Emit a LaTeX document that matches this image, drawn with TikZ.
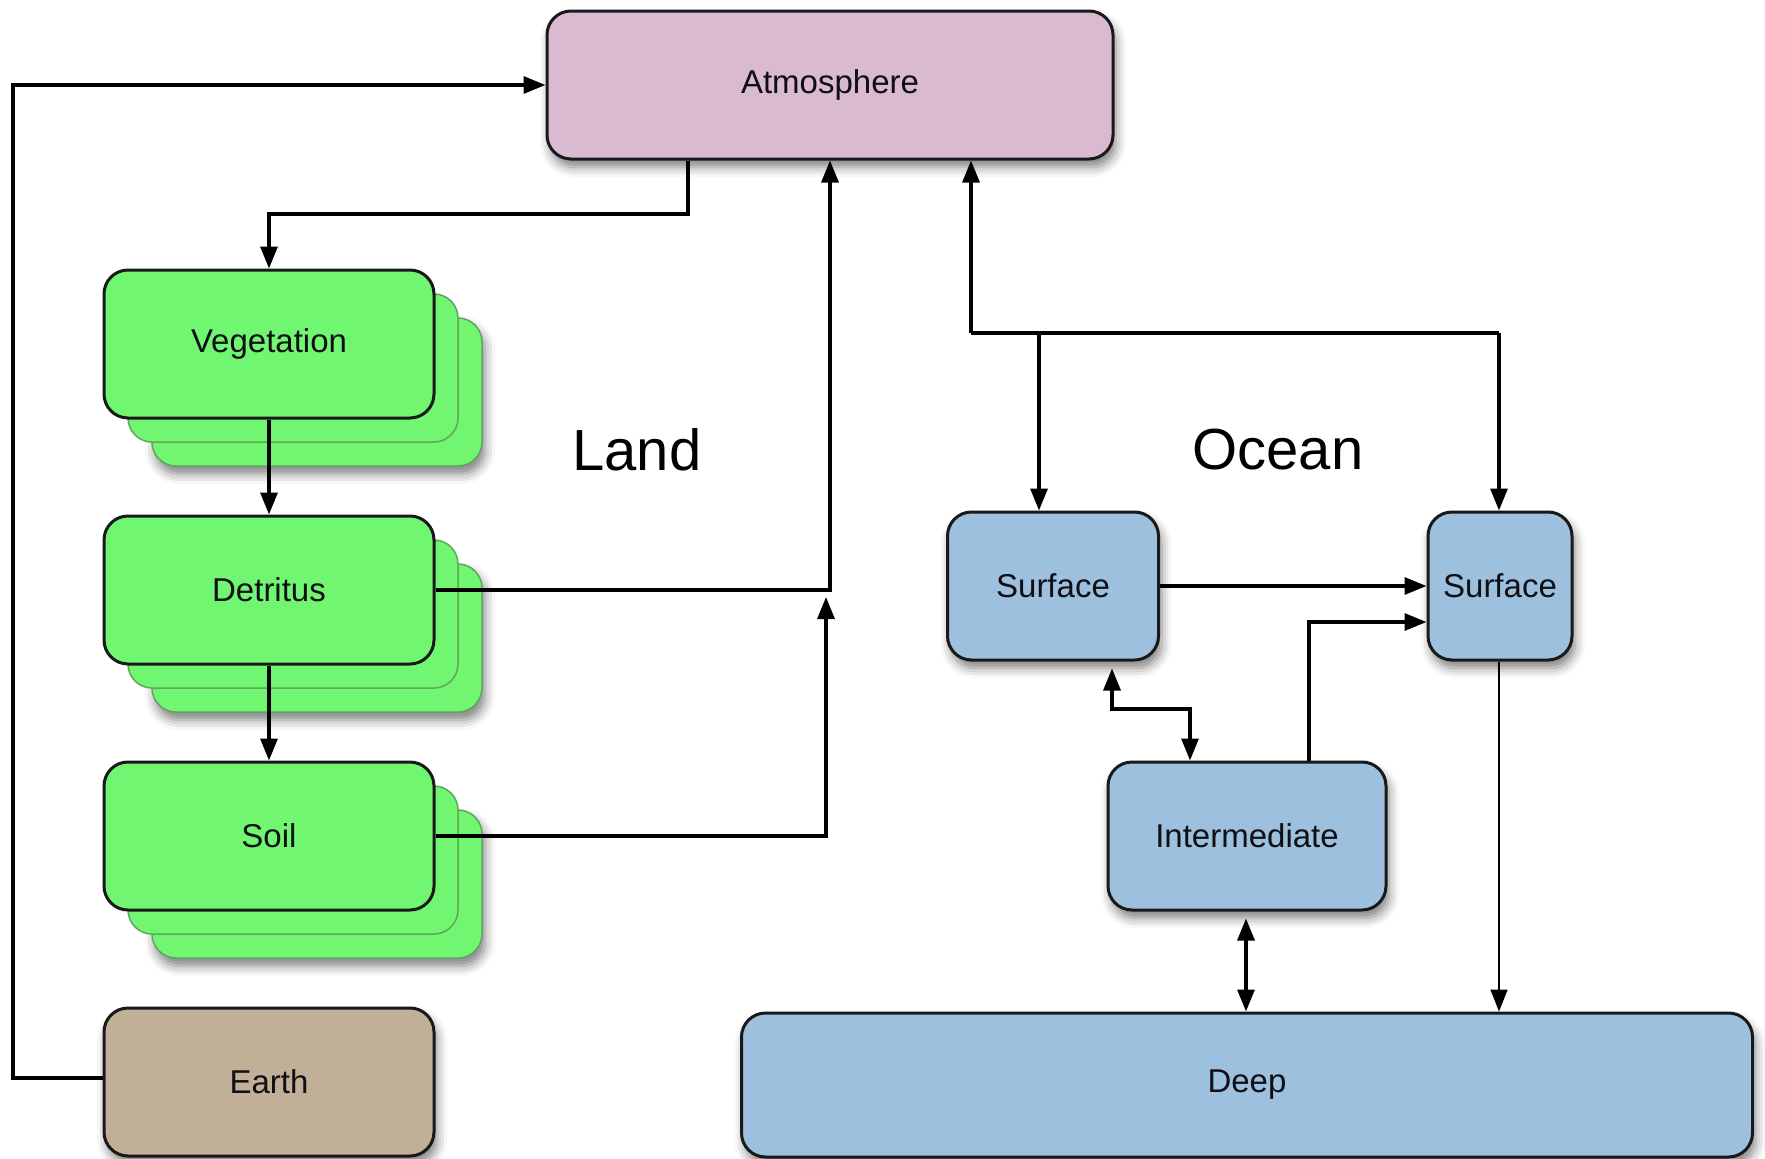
\documentclass[tikz,border=0pt]{standalone}
\usepackage{fontspec}
\setmainfont{Liberation Sans}
\usetikzlibrary{arrows.meta,shadows.blur}
\definecolor{atmfill}{RGB}{218,186,208}
\definecolor{vegfill}{RGB}{112,246,112}
\definecolor{vegback}{RGB}{95,165,95}
\definecolor{ocnfill}{RGB}{156,192,221}
\definecolor{earthfill}{RGB}{193,175,151}
\definecolor{boxline}{RGB}{25,25,25}
\definecolor{textcol}{RGB}{15,15,20}
\tikzset{
  box/.style={draw=boxline, line width=3pt, rounded corners=24pt, inner sep=0pt,
    minimum height=148pt, font=\fontsize{33}{40}\selectfont, text=textcol},
  shad/.style={blur shadow={shadow xshift=3pt, shadow yshift=-8pt, shadow blur radius=10pt, shadow opacity=50}},
  greenbox/.style={box, fill=vegfill, minimum width=330pt},
  greenback/.style={draw=vegback, line width=1.5pt, fill=vegfill, rounded corners=24pt,
    minimum width=330pt, minimum height=148pt, inner sep=0pt},
  bluebox/.style={box, fill=ocnfill, shad},
  conn/.style={line width=3.2pt, draw=black},
  arr/.style={conn, -{Triangle[length=22pt,width=17pt]}},
  arrboth/.style={conn, {Triangle[length=22pt,width=17pt]}-{Triangle[length=22pt,width=17pt]}},
  bigtext/.style={font=\fontsize{58}{66}\selectfont, text=black}
}
\begin{document}
\begin{tikzpicture}[x=1pt,y=-1pt]
\useasboundingbox (0,0) rectangle (1765,1159);

% Atmosphere
\node[box, fill=atmfill, shad, minimum width=566pt] (atm) at (830,85) {Atmosphere};

% Land stacks
\node[greenback, shad] (vegb2) at (317,392) {};
\node[greenback] (vegb1) at (293,368) {};
\node[greenbox] (veg) at (269,344) {Vegetation};

\node[greenback, shad] (detb2) at (317,638) {};
\node[greenback] (detb1) at (293,614) {};
\node[greenbox] (det) at (269,590) {Detritus};

\node[greenback, shad] (soilb2) at (317,884) {};
\node[greenback] (soilb1) at (293,860) {};
\node[greenbox] (soil) at (269,836) {Soil};

\node[box, fill=earthfill, shad, minimum width=330pt] (earth) at (269,1082) {Earth};

% Ocean boxes
\node[bluebox, minimum width=211pt] (s1) at (1053,586) {Surface};
\node[bluebox, minimum width=144pt] (s2) at (1500,586) {Surface};
\node[bluebox, minimum width=278pt] (int) at (1247,836) {Intermediate};
\node[bluebox, minimum width=1011pt, minimum height=144pt] (deep) at (1247,1085) {Deep};

% Labels
\node[bigtext] (land) at (637,450) {Land};
\node[bigtext] (ocean) at (1278,450) {Ocean};

% Coordinates
\coordinate (e1) at (13,1078);
\coordinate (a1) at (688,214);
\coordinate (sl) at (826,597);
\coordinate (o1) at (971,333);
\coordinate (o2) at (1499,333);
\coordinate (o3) at (1039,333);
\coordinate (i1) at (1309,622);
\coordinate (j1) at (1112,709);
\coordinate (j2) at (1190,709);
\coordinate (d1) at (1246,0);

% Land connectors
\draw[arr] (earth.west |- e1) -- (e1) |- (atm.west);
\draw[arr] (atm.south -| a1) -- (a1) -| (veg.north);
\draw[arr] (veg.south) -- (det.north);
\draw[arr] (det.south) -- (soil.north);
\draw[arr] (det.east) -| (atm.south);
\draw[arr] (soil.east) -| (sl);

% Ocean connectors
\draw[conn] (o1) -- (o2);
\draw[arr] (o1) -- (o1 |- atm.south);
\draw[arr] (o3) -- (o3 |- s1.north);
\draw[arr] (o2) -- (o2 |- s2.north);
\draw[arr] (s1.east) -- (s1.east -| s2.west);
\draw[arr] (int.north -| i1) |- (i1 -| s2.west);
\draw[arrboth, shorten <=7pt] (s1.south -| j1) -- (j1) -- (j2) -- (j2 |- int.north);
\draw[arrboth, shorten <=7pt] (int.south -| d1) -- (deep.north -| d1);
\draw[line width=1.6pt, -{Triangle[length=22pt,width=17pt]}] (s2.south -| o2) -- (deep.north -| o2);
\end{tikzpicture}
\end{document}
